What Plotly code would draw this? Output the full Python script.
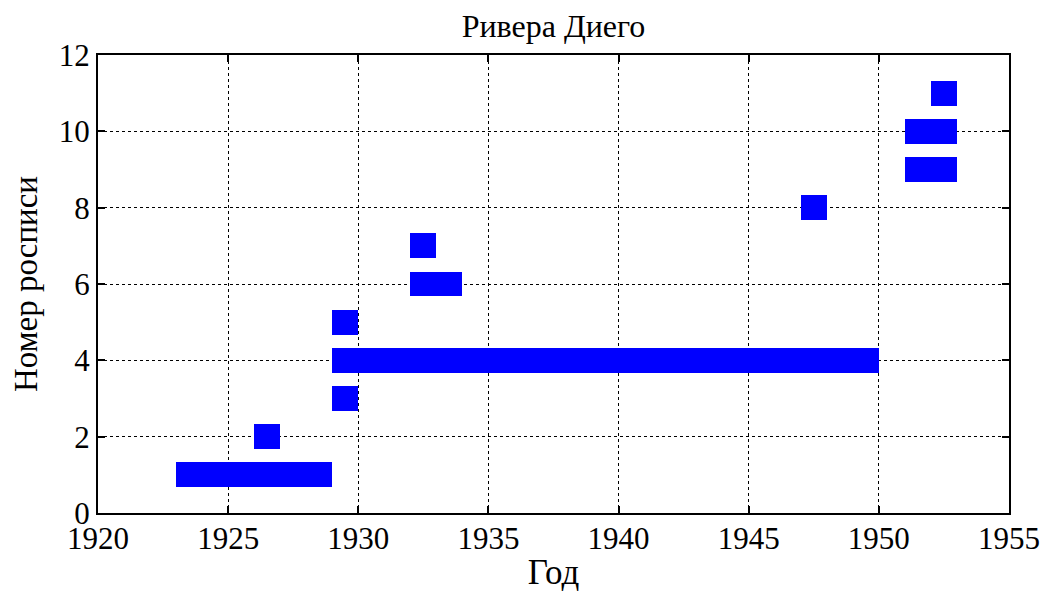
"""Gantt-style timeline of murals (Rivera Diego), MATLAB-like look."""

import plotly.graph_objects as go

# Mural number -> start / end year
mural_no = [1, 2, 3, 4, 5, 6, 7, 8, 9, 10, 11]
start_year = [1923, 1926, 1929, 1929, 1929, 1932, 1932, 1947, 1951, 1951, 1952]
end_year = [1929, 1927, 1930, 1950, 1930, 1934, 1933, 1948, 1953, 1953, 1953]

x_ticks = [1920, 1925, 1930, 1935, 1940, 1945, 1950, 1955]
y_ticks = [0, 2, 4, 6, 8, 10, 12]

_FONT = "Liberation Serif, Times New Roman, serif"
_BLUE = "#0000ff"

durations = [e - s for s, e in zip(start_year, end_year)]

fig = go.Figure(
    go.Bar(
        y=mural_no,
        x=durations,
        base=start_year,
        orientation="h",
        width=0.65,
        marker={"color": _BLUE, "line": {"width": 0}},
        hovertemplate="%{base}–%{x}<extra></extra>",
    )
)

axis_common = dict(
    showline=True,
    linecolor="black",
    linewidth=2,
    mirror="ticks",
    ticks="inside",
    ticklen=7,
    tickwidth=1.5,
    tickcolor="black",
    showgrid=True,
    gridcolor="black",
    gridwidth=1,
    griddash="dot",
    zeroline=False,
    automargin=False,
    tickfont={"size": 31, "color": "black", "family": _FONT},
)

fig.update_xaxes(
    range=[1920, 1955],
    tickvals=x_ticks,
    ticktext=[str(v) for v in x_ticks],
    ticklabelstandoff=-3,
    title={"text": "Год", "font": {"size": 35, "family": _FONT, "color": "black"},
           "standoff": 4},
    **axis_common,
)
fig.update_yaxes(
    range=[0, 12],
    tickvals=y_ticks,
    ticktext=[str(v) for v in y_ticks],
    title={"text": "Номер росписи", "font": {"size": 33, "family": _FONT, "color": "black"},
           "standoff": 11},
    **axis_common,
)

# the page body adds an 8px offset, margins compensate for it
fig.update_layout(
    width=1048,
    height=595,
    paper_bgcolor="white",
    plot_bgcolor="white",
    showlegend=False,
    bargap=0,
    margin={"l": 90, "r": 47, "t": 47, "b": 90},
    title={
        "text": "Ривера Диего",
        "font": {"size": 32, "family": _FONT, "color": "black"},
        "x": 0.5,
        "xref": "paper",
        "y": 1 - 18 / 595,
        "yref": "container",
        "yanchor": "middle",
    },
    font={"family": _FONT, "color": "black"},
)

fig.write_html("out.html")
